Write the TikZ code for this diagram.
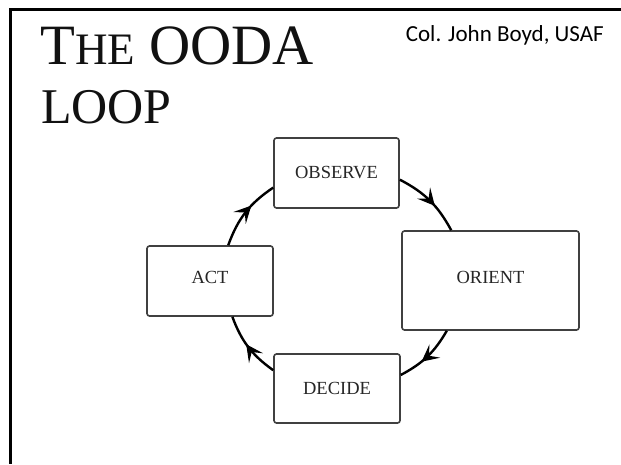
\documentclass[tikz,border=0pt]{standalone}
\usepackage{fontspec}
\newfontfamily\calibri{Carlito}
\newfontfamily\titlefont{Liberation Serif}
\usetikzlibrary{arrows.meta,decorations.markings}
\definecolor{boxgray}{HTML}{404040}
\definecolor{txtgray}{HTML}{262626}
\definecolor{titlegray}{HTML}{111111}
\tikzset{
  stagebox/.style={draw=boxgray, line width=1.6pt, rounded corners=2.5pt, inner sep=0pt,
    text=txtgray, font=\titlefont\fontsize{18.5}{18.5}\selectfont},
  loopedge/.style={line width=2.4pt, black,
    postaction={decorate, decoration={markings,
      mark=at position #1 with {\arrow{Stealth[length=17pt,width=17pt,inset=7.5pt]}}}}},
  frameline/.style={line width=3pt, black}
}
\begin{document}
\begin{tikzpicture}[x=1pt,y=1pt]
\useasboundingbox (0,0) rectangle (621,-464);
\fill[white] (0,0) rectangle (621,-464);
% frame
\coordinate (fr1) at (621,-9.5);
\coordinate (fr2) at (10.5,-9.5);
\coordinate (fr3) at (10.5,-464);
\draw[frameline] (fr1) -- (fr2) -- (fr3);
% title
\node[anchor=base west, inner sep=0pt, text=titlegray, font=\titlefont\fontsize{57}{57}\selectfont] (title1) at (40,-64)
  {T{\fontsize{45}{45}\selectfont HE} OODA};
\node[anchor=base west, inner sep=0pt, text=titlegray, font=\titlefont\fontsize{50}{50}\selectfont] (title2) at (41,-123)
  {LOOP};
\node[anchor=base east, inner sep=0pt, font=\calibri\fontsize{23}{23}\selectfont] (author) at (604,-41)
  {Col. John Boyd, USAF};
% boxes
\node[stagebox, minimum width=125pt, minimum height=70pt] (observe) at (336.5,-173) {OBSERVE};
\node[stagebox, minimum width=126pt, minimum height=70pt, text depth=7pt] (act) at (210,-281) {ACT};
\node[stagebox, minimum width=177pt, minimum height=99pt, text depth=7pt] (orient) at (490.5,-280.5) {ORIENT};
\node[stagebox, minimum width=126pt, minimum height=69pt] (decide) at (337,-388.5) {DECIDE};
% loop arcs
\draw[loopedge=0.62] (act.63) to[bend left=18] (observe.193);
\draw[loopedge=0.6] (observe.-6) to[bend left=17] (orient.128);
\draw[loopedge=0.62] (orient.229) to[bend left=16] (decide.12);
\draw[loopedge=0.55] (decide.164) to[bend left=17] (act.-58);
\end{tikzpicture}
\end{document}
